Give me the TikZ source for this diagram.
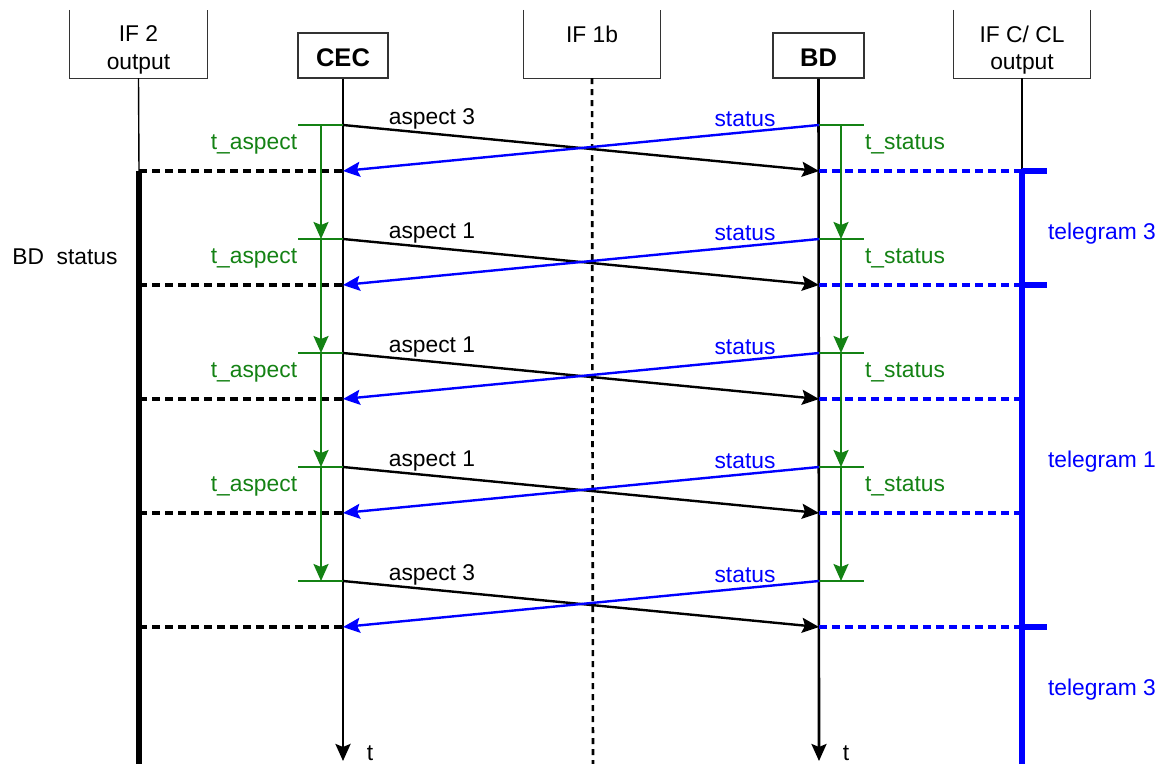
\documentclass[tikz,border=0pt]{standalone}
\usepackage{fontspec}
\setmainfont{Liberation Sans}
\usetikzlibrary{arrows.meta}
\definecolor{dgreen}{RGB}{20,130,20}
\definecolor{mblue}{RGB}{0,0,255}
\begin{document}
\begin{tikzpicture}[x=1pt,y=-1pt,
  font=\fontsize{22.8}{26}\selectfont,
  every node/.style={inner sep=0pt},
  boxln/.style={line width=1.2pt,black!80},
  life/.style={line width=2.6pt},
  tip/.style={-{Stealth[length=17pt,width=15pt,inset=3pt]}},
  msg/.style={line width=2.4pt,tip},
  gtick/.style={dgreen,line width=1.4pt},
  garr/.style={dgreen,line width=2.2pt,tip},
  dashln/.style={line width=3.2pt,dash pattern=on 8pt off 5pt},
  thickln/.style={line width=5.5pt},
  boldlbl/.style={font=\bfseries\fontsize{25.5}{30}\selectfont}
]
\useasboundingbox (0,0) rectangle (1167,763);

% header boxes
\node[minimum width=137pt,minimum height=68pt] (if2) at (138.5,44) {};
\draw[boxln] (if2.north west) -- (if2.south west) -- (if2.south east) -- (if2.north east);
\node (if2a) at (138.5,34) {IF 2};
\node (if2b) at (138.5,64) {output};

\node[draw,boxln,minimum width=90pt,minimum height=45pt] (cec) at (343,55.5) {};
\node[boldlbl] (cect) at (343,58) {CEC};

\node[minimum width=136pt,minimum height=68pt] (if1b) at (592,44) {};
\draw[boxln] (if1b.north west) -- (if1b.south west) -- (if1b.south east) -- (if1b.north east);
\node (if1bt) at (592,34) {IF 1b};

\node[draw,boxln,minimum width=91pt,minimum height=45pt] (bd) at (818.5,55.5) {};
\node[boldlbl] (bdt) at (818.5,58) {BD};

\node[minimum width=136pt,minimum height=68pt] (ifc) at (1022,44) {};
\draw[boxln] (ifc.north west) -- (ifc.south west) -- (ifc.south east) -- (ifc.north east);
\node (ifca) at (1022,34) {IF C/ CL};
\node (ifcb) at (1022,64) {output};

% lifelines
\coordinate (if2s) at (139,171);
\coordinate (if2e) at (139,770);
\draw[line width=1.4pt] (if2.south) -- (if2s);
\draw[thickln] (if2s) -- (if2e);

\coordinate (ifcs) at (1022,171);
\coordinate (ifce) at (1022,770);
\draw[line width=1.4pt] (ifc.south) -- (ifcs);
\draw[thickln,mblue] (ifcs) -- (ifce);

\coordinate (if1be) at (593,770);
\draw[line width=2.6pt,dash pattern=on 6pt off 5pt] (if1b.south) -- (if1be);

\coordinate (cecend) at (343,761);
\draw[life,tip] (cec.south) -- (cecend);
\node (tc) at (370,753) {t};
\coordinate (bdend) at (819,761);
\draw[life,tip] (bd.south) -- (bdend);
\node (tb) at (846,753) {t};

% rows
\foreach \i/\lab in {1/3,2/1,3/1,4/1,5/3} {
  \pgfmathsetmacro\ya{125+114*(\i-1)}
  \pgfmathsetmacro\yb{\ya+46}
  \coordinate (ca\i) at (343,\ya);
  \coordinate (cb\i) at (343,\yb);
  \coordinate (ba\i) at (819,\ya);
  \coordinate (bb\i) at (819,\yb);
  \coordinate (ib\i) at (139,\yb);
  \coordinate (ob\i) at (1022,\yb);
  \coordinate (gl\i) at (298,\ya);
  \coordinate (gr\i) at (864,\ya);
  \coordinate (gv\i) at (321,\ya);
  \coordinate (hv\i) at (841,\ya);
  \draw[dashln] (ib\i) -- (cb\i);
  \draw[dashln,mblue] (bb\i) -- (ob\i);
  \draw[gtick] (gl\i) -- (ca\i);
  \draw[gtick] (ba\i) -- (gr\i);
  \draw[msg] (ca\i) -- (bb\i);
  \draw[msg,mblue] (ba\i) -- (cb\i);
  \node (asp\i) at (432,\ya-6) {aspect \lab};
  \node[text=mblue] (st\i) at (745,\ya-6) {status};
}

\foreach \i/\j in {1/2,2/3,3/4,4/5} {
  \draw[garr] (gv\i) -- (gv\j);
  \draw[garr] (hv\i) -- (hv\j);
  \pgfmathsetmacro\yl{144+114*(\i-1)}
  \node[text=dgreen] (ta\i) at (254,\yl) {t\_aspect};
  \node[text=dgreen] (ts\i) at (905,\yl) {t\_status};
}

% telegram ticks
\foreach \i in {1,2,5} {
  \coordinate (obt\i) at (1047,0 |- ob\i);
  \draw[thickln,mblue] (ob\i) -- (obt\i);
}

\node (bdst) at (65,257) {BD\hspace{0.55em}status};
\node[text=mblue] (tg1) at (1102,234) {telegram 3};
\node[text=mblue] (tg2) at (1102,462) {telegram 1};
\node[text=mblue] (tg3) at (1102,690) {telegram 3};
\end{tikzpicture}
\end{document}
